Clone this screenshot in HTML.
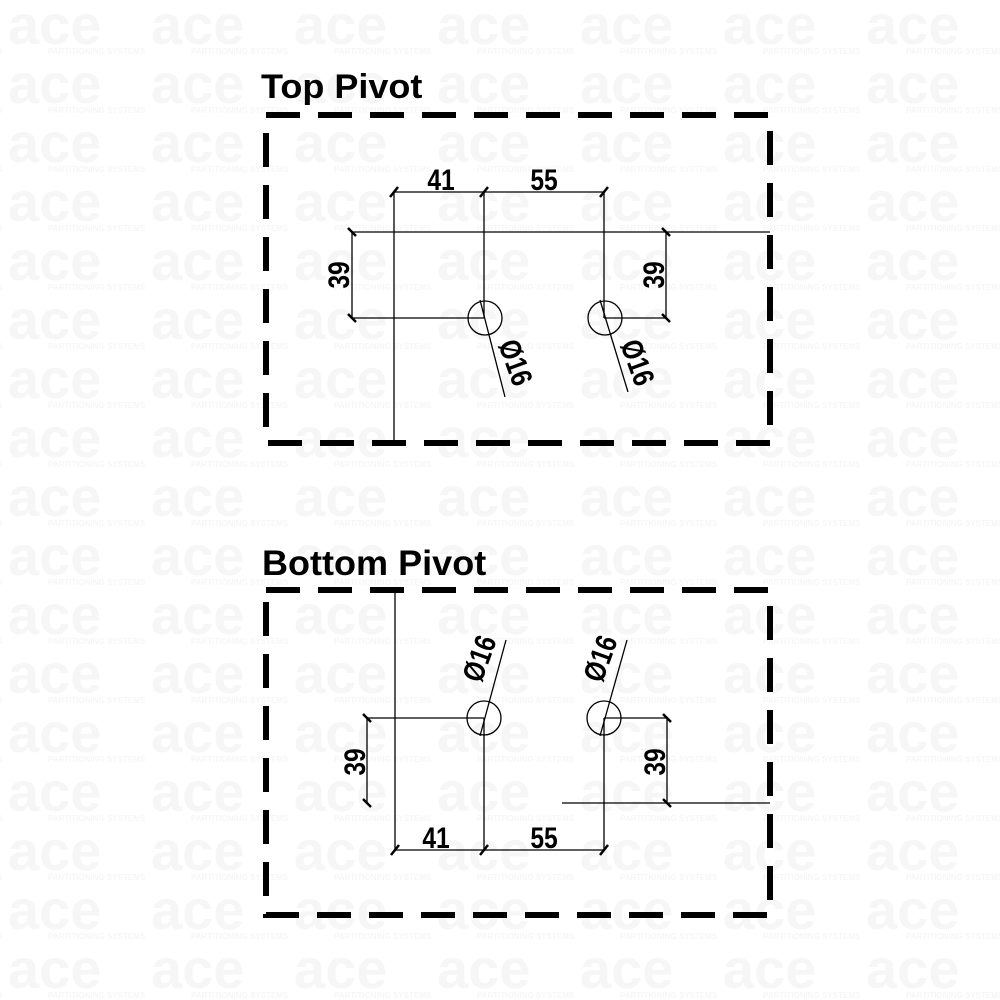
<!DOCTYPE html>
<html><head><meta charset="utf-8"><style>
html,body{margin:0;padding:0;background:#fff}
svg{display:block}
text{font-family:"Liberation Sans",sans-serif;font-weight:bold;fill:#000}
</style></head><body>
<svg width="1000" height="1000" viewBox="0 0 1000 1000" xmlns="http://www.w3.org/2000/svg">
<defs>
<pattern id="wm" x="8" y="0" width="143" height="59" patternUnits="userSpaceOnUse">
<text x="0" y="44" font-size="56" style="fill:#f6f6f6">ace</text>
<text x="40" y="54" font-size="8" style="fill:#f6f6f6">PARTITIONING SYSTEMS</text>
</pattern>
</defs>
<rect x="0" y="0" width="1000" height="1000" fill="url(#wm)"/>
<g fill="none" stroke="#000" stroke-width="6">
<path d="M266,115 H770 V443 H266 Z" stroke-dasharray="34 18"/>
<path d="M266,590 H770 V915 H266 Z" stroke-dasharray="34 18"/>
</g>
<text x="261" y="98" font-size="34" transform="translate(261,98) scale(1.06,1) translate(-261,-98)">Top Pivot</text>
<text x="262" y="575" font-size="35" transform="translate(262,575) scale(1.03,1) translate(-262,-575)">Bottom Pivot</text>

<g fill="none" stroke="#000" stroke-width="1.3">
<line x1="394" y1="192" x2="604" y2="192"/>
<line x1="394" y1="192" x2="394" y2="443"/>
<line x1="484" y1="192" x2="484" y2="318"/>
<line x1="604" y1="192" x2="604" y2="318"/>
<line x1="352" y1="232" x2="770" y2="232"/>
<line x1="352" y1="232" x2="352" y2="318"/>
<line x1="352" y1="318" x2="484" y2="318"/>
<line x1="666" y1="232" x2="666" y2="318"/>
<line x1="604" y1="318" x2="666" y2="318"/>
<circle cx="485" cy="318" r="17"/>
<circle cx="605" cy="318" r="17"/>
<line x1="480" y1="300" x2="505" y2="397"/>
<line x1="600" y1="300" x2="628" y2="392"/>
<line x1="395" y1="590" x2="395" y2="850"/>
<line x1="395" y1="850" x2="604" y2="850"/>
<line x1="484" y1="718" x2="484" y2="850"/>
<line x1="604" y1="718" x2="604" y2="850"/>
<line x1="367" y1="718" x2="484" y2="718"/>
<line x1="367" y1="718" x2="367" y2="803"/>
<line x1="604" y1="718" x2="667" y2="718"/>
<line x1="667" y1="718" x2="667" y2="803"/>
<line x1="562" y1="803" x2="770" y2="803"/>
<circle cx="484" cy="718" r="17"/>
<circle cx="604" cy="718" r="17"/>
<line x1="480" y1="736" x2="506" y2="640"/>
<line x1="600" y1="736" x2="627" y2="640"/>
</g>
<g stroke="#000" stroke-width="2.5">
<line x1="390" y1="197" x2="398" y2="187"/><line x1="480" y1="197" x2="488" y2="187"/><line x1="600" y1="197" x2="608" y2="187"/>
<line x1="348" y1="228" x2="356" y2="236"/><line x1="348" y1="314" x2="356" y2="322"/>
<line x1="662" y1="228" x2="670" y2="236"/><line x1="662" y1="314" x2="670" y2="322"/>
<line x1="391" y1="855" x2="399" y2="845"/><line x1="480" y1="855" x2="488" y2="845"/><line x1="600" y1="855" x2="608" y2="845"/>
<line x1="363" y1="714" x2="371" y2="722"/><line x1="363" y1="799" x2="371" y2="807"/>
<line x1="663" y1="714" x2="671" y2="722"/><line x1="663" y1="799" x2="671" y2="807"/>
</g>
<g font-size="30" text-anchor="middle">
<text transform="translate(441,190) scale(0.82,1)">41</text>
<text transform="translate(544,190) scale(0.82,1)">55</text>
<text transform="translate(349,275) rotate(-90) scale(0.82,1)">39</text>
<text transform="translate(664,275) rotate(-90) scale(0.82,1)">39</text>
<text transform="translate(506,366) rotate(70) scale(0.82,1)">Ø16</text>
<text transform="translate(628,366) rotate(70) scale(0.82,1)">Ø16</text>
<text transform="translate(436,848) scale(0.82,1)">41</text>
<text transform="translate(544,848) scale(0.82,1)">55</text>
<text transform="translate(365,762) rotate(-90) scale(0.82,1)">39</text>
<text transform="translate(665,762) rotate(-90) scale(0.82,1)">39</text>
<text transform="translate(489,662) rotate(-70) scale(0.82,1)">Ø16</text>
<text transform="translate(610,662) rotate(-70) scale(0.82,1)">Ø16</text>
</g>
</svg>
</body></html>
